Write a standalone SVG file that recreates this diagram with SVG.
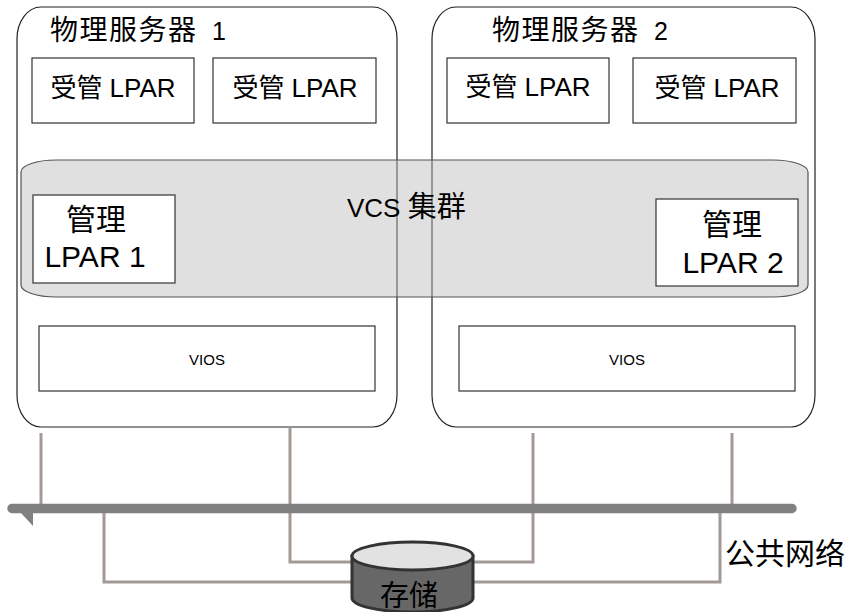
<svg xmlns="http://www.w3.org/2000/svg" width="860" height="612" viewBox="0 0 860 612">
<style>
text{font-family:"Liberation Sans","Noto Sans CJK SC",sans-serif;fill:#000}
.srv{fill:#fff;stroke:#222;stroke-width:1.2}
.box{fill:#fff;stroke:#333;stroke-width:1.2}
.head{font-size:28px;letter-spacing:1.5px}
.lp{font-size:26px;text-anchor:middle}
.mg{font-size:30px;text-anchor:middle}
.vios{font-size:15px;text-anchor:middle}
.conn{fill:none;stroke:#a39a95;stroke-width:3}
</style>
<rect width="860" height="612" fill="#fff"/>
<g id="server1">
<rect class="srv" x="17" y="7" width="380" height="420" rx="24" ry="32"/>
<text class="head" x="50" y="40">物理服务器<tspan font-size="25" dx="6"> 1</tspan></text>
</g>
<g id="server2">
<rect class="srv" x="432" y="7" width="383" height="420" rx="24" ry="32"/>
<text class="head" x="492" y="40">物理服务器<tspan font-size="25" dx="6"> 2</tspan></text>
</g>
<g id="lpar-s1-a"><rect class="box" x="32" y="58" width="162" height="65"/><text class="lp" x="113" y="97">受管 LPAR</text></g>
<g id="lpar-s1-b"><rect class="box" x="213" y="58" width="163" height="65"/><text class="lp" x="295" y="97">受管 LPAR</text></g>
<g id="lpar-s2-a"><rect class="box" x="447" y="58" width="162" height="65"/><text class="lp" x="528" y="96">受管 LPAR</text></g>
<g id="lpar-s2-b"><rect class="box" x="633" y="58" width="163" height="65"/><text class="lp" x="717" y="97">受管 LPAR</text></g>
<g id="vcs-cluster">
<rect x="21" y="160" width="787" height="137" rx="35" ry="12" fill="#bbbbbb" fill-opacity="0.45" stroke="#555" stroke-width="1.2"/>
<text x="347" y="217" font-size="26">VCS <tspan font-size="29">集群</tspan></text>
</g>
<g id="mgmt-lpar1">
<rect class="box" x="33" y="195" width="142" height="88"/>
<text class="mg" x="96" y="230">管理</text>
<text class="mg" x="95" y="267">LPAR 1</text>
</g>
<g id="mgmt-lpar2">
<rect class="box" x="656" y="199" width="142" height="87"/>
<text class="mg" x="732" y="235">管理</text>
<text class="mg" x="733" y="273">LPAR 2</text>
</g>
<g id="vios1"><rect class="box" x="39" y="326" width="336" height="65"/><text class="vios" x="207" y="365">VIOS</text></g>
<g id="vios2"><rect class="box" x="459" y="326" width="336" height="65"/><text class="vios" x="627" y="365">VIOS</text></g>
<g id="connectors">
<path class="conn" d="M41 433V508"/>
<path class="conn" d="M290 427V562H354"/>
<path class="conn" d="M533 433V562H471"/>
<path class="conn" d="M732 433V508"/>
<path class="conn" d="M104 508V582H354"/>
<path class="conn" d="M720 508V582H471"/>
</g>
<g id="public-network">
<line x1="12" y1="508.5" x2="792" y2="508.5" stroke="#808080" stroke-width="9.5" stroke-linecap="round"/>
<polygon points="21,513 33,513 33,526" fill="#808080"/>
<text x="725" y="564" font-size="30">公共网络</text>
</g>
<g id="storage">
<path d="M352 556V598A60.5 14 0 0 0 473 598V556Z" fill="#676767" stroke="#333" stroke-width="3"/>
<ellipse cx="412.5" cy="556" rx="60.5" ry="14" fill="#e2e2e2" stroke="#333" stroke-width="3"/>
<text x="409" y="606" font-size="29" text-anchor="middle">存储</text>
</g>
</svg>
